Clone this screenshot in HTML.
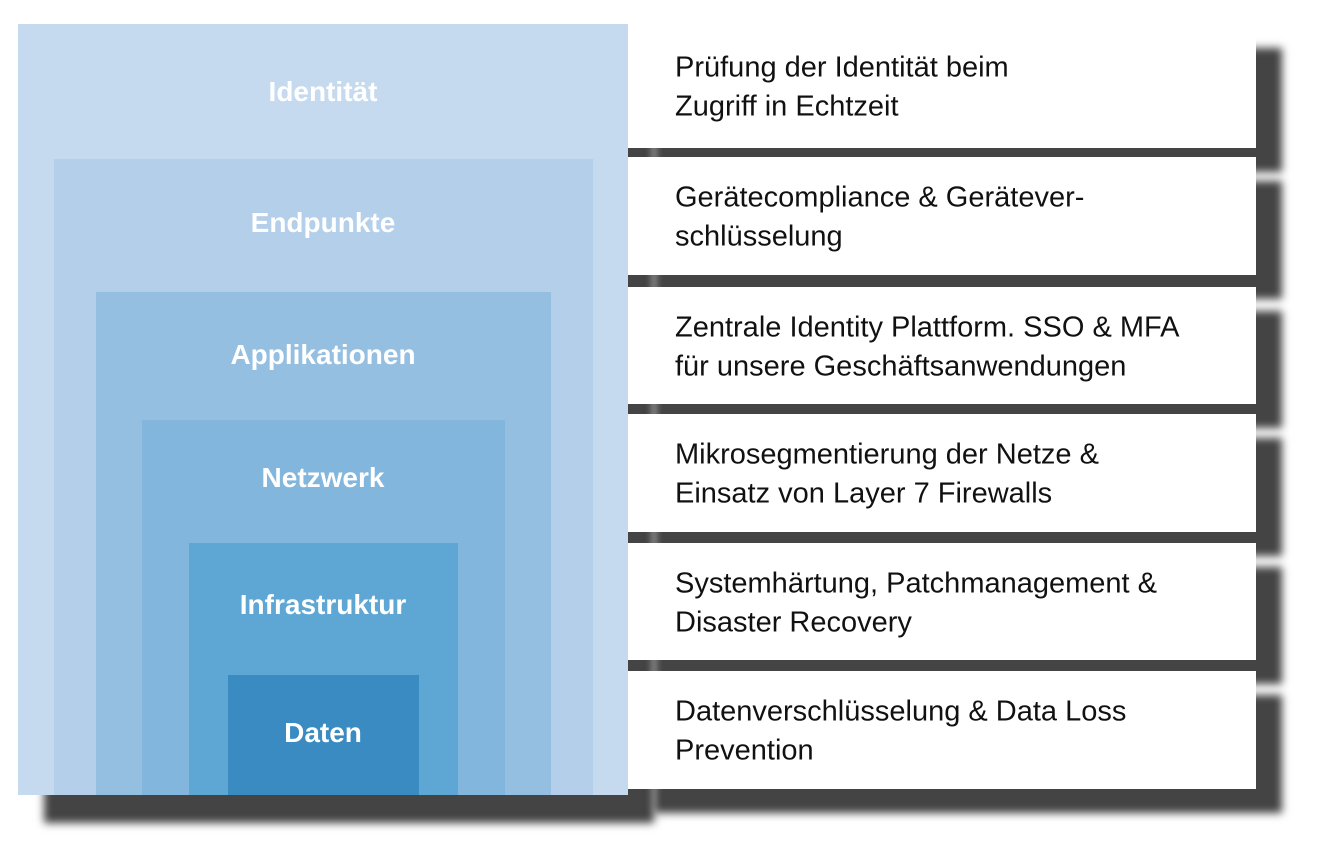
<!DOCTYPE html>
<html><head><meta charset="utf-8"><style>
body{margin:0;width:1320px;height:843px;background:#fff;position:relative;overflow:hidden;font-family:"Liberation Sans",sans-serif}
.r{position:absolute}
.lbl{position:absolute;left:18px;width:610px;text-align:center;color:#fff;font-weight:bold;font-size:28px}
.box{position:absolute;left:628px;width:628px;background:#fff;box-shadow:26px 24px 8px #444}
.box div{position:absolute;left:47px;top:50%;transform:translateY(-48%);font-size:29px;line-height:39px;color:#111;white-space:nowrap}
</style></head><body>
<div class="r" style="left:18px;top:24px;width:610px;height:771px;box-shadow:26px 28px 8px #444;background:#c5daee"></div>
<div class="box" style="top:24px;height:124px"><div>Prüfung der Identität beim<br>Zugriff in Echtzeit</div></div>
<div class="box" style="top:157px;height:118px"><div>Gerätecompliance &amp; Gerätever-<br>schlüsselung</div></div>
<div class="box" style="top:287px;height:117px"><div>Zentrale Identity Plattform. SSO &amp; MFA<br>für unsere Geschäftsanwendungen</div></div>
<div class="box" style="top:414px;height:118px"><div>Mikrosegmentierung der Netze &amp;<br>Einsatz von Layer 7 Firewalls</div></div>
<div class="box" style="top:543px;height:117px"><div>Systemhärtung, Patchmanagement &amp;<br>Disaster Recovery</div></div>
<div class="box" style="top:671px;height:118px"><div>Datenverschlüsselung &amp; Data Loss<br>Prevention</div></div>
<div class="r" style="left:18px;top:24px;width:610px;height:771px;background:#c5daee"></div>
<div class="r" style="left:54px;top:159px;width:539px;height:636px;background:#b3cfe9"></div>
<div class="r" style="left:96px;top:292px;width:455px;height:503px;background:#95bfe1"></div>
<div class="r" style="left:142px;top:420px;width:363px;height:375px;background:#83b6dc"></div>
<div class="r" style="left:189px;top:543px;width:269px;height:252px;background:#5ea6d3"></div>
<div class="r" style="left:228px;top:675px;width:191px;height:120px;background:#3a8bc1"></div>
<div class="lbl" style="top:76px">Identität</div>
<div class="lbl" style="top:207px">Endpunkte</div>
<div class="lbl" style="top:339px">Applikationen</div>
<div class="lbl" style="top:462px">Netzwerk</div>
<div class="lbl" style="top:589px">Infrastruktur</div>
<div class="lbl" style="top:717px">Daten</div>
</body></html>
